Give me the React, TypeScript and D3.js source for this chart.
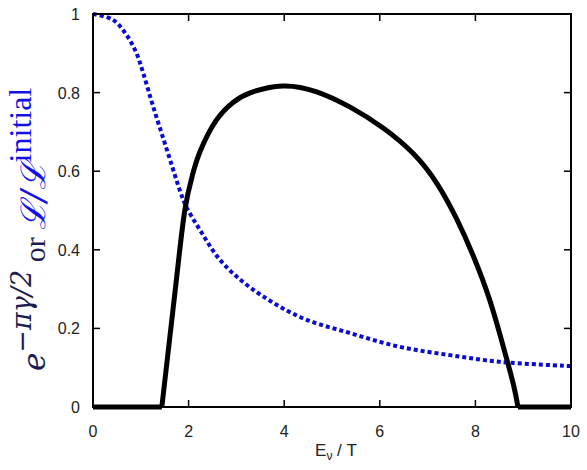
import React, { useEffect, useRef } from "react";
import * as d3 from "d3";

// survival probability (black) : hump between threshold and cutoff
const humpX = [1.44, 1.6, 1.76, 1.92, 2.08, 2.24, 2.57, 2.93, 3.3, 3.97, 4.68, 5.38, 6.07, 6.7, 7.2, 7.61, 7.95, 8.3, 8.58, 8.79, 8.89];
const humpY = [0, 0.17, 0.34, 0.5, 0.59, 0.65, 0.728, 0.775, 0.8, 0.817, 0.802, 0.763, 0.71, 0.645, 0.568, 0.478, 0.386, 0.272, 0.155, 0.06, 0];
// flat zero parts of the black curve
const zeroSegments = [[0, 1.44], [8.89, 10]];

// luminosity ratio (blue dotted)
const lumX = [0, 0.42, 0.7, 0.91, 1.05, 1.22, 1.4, 1.61, 1.82, 1.95, 2.24, 2.66, 3.28, 4.33, 5.38, 6.42, 7.47, 8.51, 10];
const lumY = [1, 0.985, 0.947, 0.9, 0.85, 0.78, 0.71, 0.63, 0.55, 0.51, 0.45, 0.374, 0.305, 0.229, 0.188, 0.153, 0.132, 0.115, 0.104];

const xTicks = [0, 2, 4, 6, 8, 10];
const yTicks = [0, 0.2, 0.4, 0.6, 0.8, 1];

export default function App() {
  const ref = useRef<SVGSVGElement>(null);

  useEffect(() => {
    document.body.style.margin = "0";
    const width = 587, height = 470;
    const margin = { top: 14, right: 16, bottom: 63, left: 93 };
    const svg = d3.select(ref.current);
    svg.selectAll("*").remove();

    const x = d3.scaleLinear().domain([0, 10]).range([margin.left, width - margin.right]);
    const y = d3.scaleLinear().domain([0, 1]).range([height - margin.bottom, margin.top]);
    const font = "'Liberation Sans', Arial, sans-serif";
    const tk = 7;

    // curves
    const hump = humpX.map((d, i) => [d, humpY[i]] as [number, number]);
    const lum = lumX.map((d, i) => [d, lumY[i]] as [number, number]);
    const line = d3.line<[number, number]>().x(d => x(d[0])).y(d => y(d[1]));

    svg.append("path").attr("d", line.curve(d3.curveCatmullRom)(lum)).attr("fill", "none")
      .attr("stroke", "#0a0ad6").attr("stroke-width", 4).attr("stroke-dasharray", "4,3");

    zeroSegments.forEach(s => {
      svg.append("line").attr("x1", x(s[0])).attr("x2", x(s[1])).attr("y1", y(0)).attr("y2", y(0))
        .attr("stroke", "#000").attr("stroke-width", 5);
    });
    svg.append("path").attr("d", line.curve(d3.curveNatural)(hump)).attr("fill", "none")
      .attr("stroke", "#000").attr("stroke-width", 5).attr("stroke-linejoin", "round");

    // frame
    svg.append("rect").attr("x", x(0)).attr("y", y(1)).attr("width", x(10) - x(0)).attr("height", y(0) - y(1))
      .attr("fill", "none").attr("stroke", "#000").attr("stroke-width", 2);

    // ticks on all sides
    const g = svg.append("g").attr("stroke", "#000").attr("stroke-width", 1.5);
    xTicks.forEach(t => {
      g.append("line").attr("x1", x(t)).attr("x2", x(t)).attr("y1", y(0)).attr("y2", y(0) - tk);
      g.append("line").attr("x1", x(t)).attr("x2", x(t)).attr("y1", y(1)).attr("y2", y(1) + tk);
    });
    yTicks.forEach(t => {
      g.append("line").attr("x1", x(0)).attr("x2", x(0) + tk).attr("y1", y(t)).attr("y2", y(t));
      g.append("line").attr("x1", x(10)).attr("x2", x(10) - tk).attr("y1", y(t)).attr("y2", y(t));
    });

    // tick labels
    svg.append("g").selectAll("text").data(xTicks).join("text")
      .attr("x", d => x(d)).attr("y", y(0) + 30).attr("text-anchor", "middle")
      .attr("font-family", font).attr("font-size", 16).attr("fill", "#222").text(d => d);
    svg.append("g").selectAll("text").data(yTicks).join("text")
      .attr("x", x(0) - 13).attr("y", d => y(d) + 6).attr("text-anchor", "end")
      .attr("font-family", font).attr("font-size", 16).attr("fill", "#222").text(d => d);

    // x axis label
    const xl = svg.append("text").attr("x", (x(0) + x(10)) / 2 + 4).attr("y", height - 14)
      .attr("text-anchor", "middle").attr("font-family", font).attr("font-size", 17).attr("fill", "#222");
    xl.append("tspan").text("E");
    xl.append("tspan").attr("font-size", 12).attr("dy", 4).text("ν");
    xl.append("tspan").attr("dy", -4).text(" / T");

    // y axis label
    const serif = "'DejaVu Serif', 'Liberation Serif', serif";
    const roman = "'Liberation Serif', serif";
    const dark = "#1c1c50", blue = "#1212e6";
    const yl = svg.append("text").attr("transform", "translate(45,371) rotate(-90)")
      .attr("text-anchor", "start").attr("font-family", serif).attr("font-size", 31);
    yl.append("tspan").attr("fill", dark).attr("font-style", "italic").text("e");
    yl.append("tspan").attr("fill", dark).attr("font-size", 27).attr("dy", -14).attr("font-style", "italic").text("−πγ/2");
    yl.append("tspan").attr("fill", dark).attr("dy", 14).attr("font-family", roman).attr("font-size", 30).text(" or ");
    yl.append("tspan").attr("fill", blue).attr("font-style", "italic").attr("font-size", 34).text("ℒ/ℒ");
    yl.append("tspan").attr("fill", blue).attr("font-size", 32).attr("dy", -14).attr("font-family", roman).text("initial");
  }, []);

  return <svg ref={ref} width={587} height={470} style={{ display: "block", background: "#fff" }} />;
}
